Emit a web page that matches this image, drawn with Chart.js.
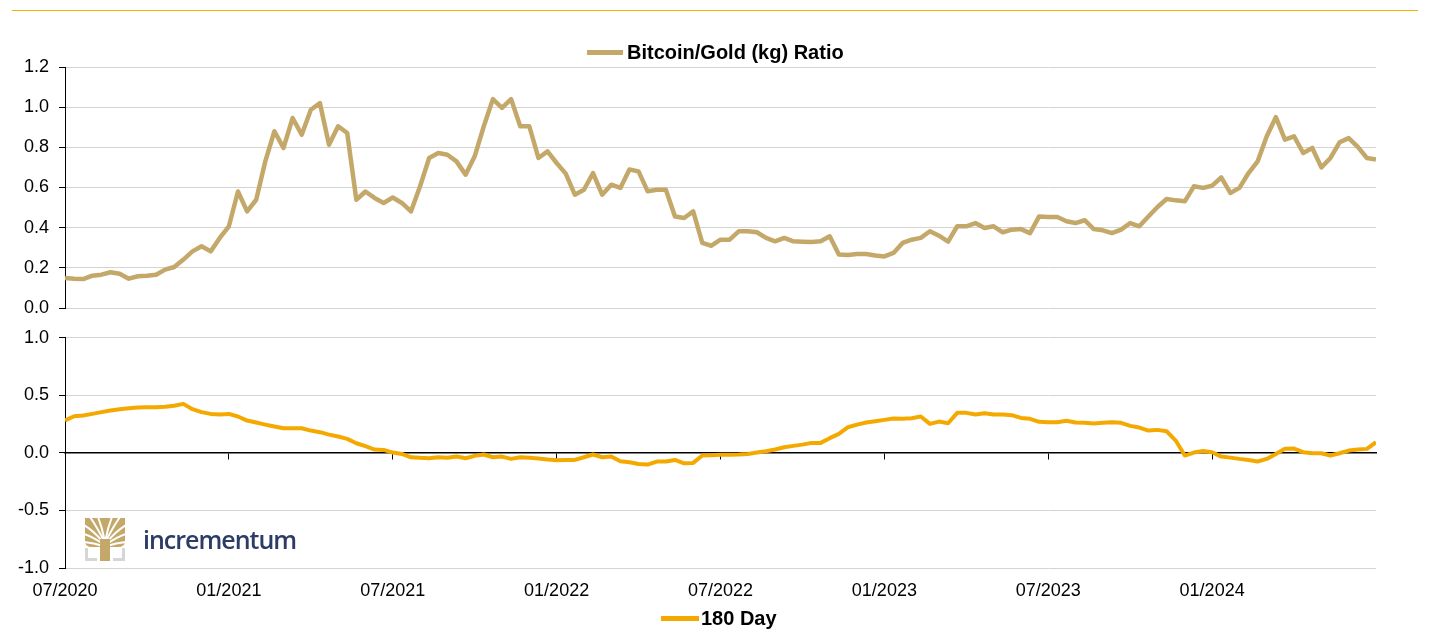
<!DOCTYPE html>
<html>
<head>
<meta charset="utf-8">
<script src="https://cdn.jsdelivr.net/npm/chart.js@4.4.1/dist/chart.umd.min.js"></script>
<style>
  html, body { margin: 0; padding: 0; background: #fff; }
  body { width: 1430px; height: 634px; position: relative; overflow: hidden; font-family: "Liberation Sans", Arial, sans-serif; }
  .rule { position: absolute; left: 12px; top: 10px; width: 1406px; height: 1px; background: #F2B200; }
  .box { position: absolute; left: 0; width: 1430px; }
  #top-box { top: 0; height: 330px; }
  #bot-box { top: 317px; height: 317px; }
  .legend { position: absolute; height: 24px; line-height: 24px; white-space: nowrap; font-size: 20px; font-weight: bold; color: #000; }
  .legend i { display: inline-block; height: 5px; vertical-align: middle; position: relative; top: -1px; }
  #top-legend { left: 587px; top: 40px; }
  #top-legend i { width: 36px; margin-right: 4px; }
  #bot-legend { left: 661px; top: 606px; }
  #bot-legend i { width: 38px; margin-right: 2px; }
  .logo { position: absolute; left: 84px; top: 517px; width: 230px; height: 44px; }
  .logo svg { position: absolute; left: 0; top: 0; }
  .logo span { position: absolute; left: 59px; top: 5px; font-family: "Open Sans", sans-serif; font-weight: 600; font-size: 25px; letter-spacing: -1px; color: #2D3C66; }
</style>
</head>
<body>
<div class="rule"></div>
<div class="box" id="top-box"><canvas id="top-chart"></canvas></div>
<div class="box" id="bot-box"><canvas id="bot-chart"></canvas></div>
<div class="legend" id="top-legend"></div>
<div class="legend" id="bot-legend"></div>
<div class="logo">
  <svg width="42" height="44" viewBox="0 0 42 44">
    <path d="M1 1 H41 V24 Q41 30 34 30 H8 Q1 30 1 24 Z" fill="#C4A86A"/>
    <g stroke="#fff" stroke-width="2" fill="none">
      <path d="M19 29 Q10 26 0 25"/>
      <path d="M19 27 Q9 20 0 17"/>
      <path d="M19 25 Q10 14 0 8"/>
      <path d="M20 24 Q13 10 6 0"/>
      <path d="M20.5 23 Q18 10 14 0"/>
      <path d="M23 29 Q32 26 42 25"/>
      <path d="M23 27 Q33 20 42 17"/>
      <path d="M23 25 Q32 14 42 8"/>
      <path d="M22 24 Q29 10 36 0"/>
      <path d="M21.5 23 Q24 10 28 0"/>
    </g>
    <rect x="16" y="22" width="10" height="22" fill="#C4A86A"/>
    <path d="M2.5 31 V42.5 H13 M39.5 31 V42.5 H29" stroke="#D6D6D6" stroke-width="3" fill="none"/>
  </svg>
  <span>incrementum</span>
</div>
<script>
(function() {
    'use strict';

    /* ---- data: one point every 1/3 month, starting 07/2020 ---- */
    var START_YEAR = 2020;
    var START_MONTH = 7;
    var STEP = 1 / 3;
    var TICK_MONTHS = [0, 6, 12, 18, 24, 30, 36, 42];

    var ratio = [
        0.150, 0.146, 0.144, 0.161, 0.166, 0.178, 0.171, 0.146, 0.158, 0.161, 0.166, 0.191,
        0.204, 0.241, 0.282, 0.307, 0.282, 0.349, 0.407, 0.580, 0.481, 0.539, 0.730, 0.880,
        0.797, 0.946, 0.863, 0.987, 1.020, 0.813, 0.905, 0.871, 0.539, 0.580, 0.548, 0.523,
        0.550, 0.523, 0.481, 0.606, 0.747, 0.772, 0.763, 0.730, 0.664, 0.755, 0.905, 1.040,
        0.996, 1.040, 0.905, 0.905, 0.747, 0.780, 0.722, 0.669, 0.564, 0.589, 0.672, 0.564,
        0.614, 0.598, 0.690, 0.680, 0.581, 0.589, 0.589, 0.456, 0.448, 0.481, 0.324, 0.310,
        0.340, 0.340, 0.382, 0.382, 0.377, 0.349, 0.332, 0.349, 0.332, 0.330, 0.329, 0.332,
        0.357, 0.266, 0.264, 0.269, 0.269, 0.261, 0.257, 0.274, 0.324, 0.340, 0.349, 0.382,
        0.360, 0.330, 0.407, 0.407, 0.423, 0.398, 0.407, 0.377, 0.390, 0.393, 0.373, 0.456,
        0.453, 0.453, 0.432, 0.423, 0.437, 0.393, 0.387, 0.373, 0.390, 0.423, 0.407, 0.456,
        0.503, 0.543, 0.536, 0.531, 0.606, 0.598, 0.609, 0.650, 0.573, 0.598, 0.672, 0.730,
        0.855, 0.950, 0.838, 0.855, 0.772, 0.797, 0.700, 0.747, 0.825, 0.846, 0.802, 0.747,
        0.739
    ];

    var corr180 = [
        0.281, 0.319, 0.325, 0.339, 0.354, 0.368, 0.380, 0.388, 0.394, 0.397, 0.397, 0.400,
        0.409, 0.426, 0.380, 0.354, 0.339, 0.333, 0.339, 0.316, 0.281, 0.264, 0.246, 0.229,
        0.214, 0.214, 0.214, 0.194, 0.180, 0.159, 0.142, 0.122, 0.084, 0.058, 0.029, 0.026,
        0.003, -0.009, -0.038, -0.043, -0.046, -0.038, -0.043, -0.032, -0.046, -0.026, -0.014, -0.038,
        -0.032, -0.052, -0.038, -0.043, -0.049, -0.058, -0.064, -0.061, -0.061, -0.038, -0.014, -0.038,
        -0.032, -0.072, -0.081, -0.096, -0.101, -0.075, -0.075, -0.061, -0.090, -0.087, -0.023, -0.020,
        -0.017, -0.017, -0.014, -0.009, 0.003, 0.014, 0.029, 0.049, 0.061, 0.072, 0.087, 0.087,
        0.128, 0.165, 0.223, 0.246, 0.264, 0.275, 0.287, 0.299, 0.296, 0.301, 0.316, 0.252,
        0.272, 0.258, 0.348, 0.348, 0.333, 0.345, 0.333, 0.333, 0.328, 0.304, 0.296, 0.270,
        0.267, 0.267, 0.280, 0.264, 0.261, 0.255, 0.261, 0.267, 0.261, 0.235, 0.220, 0.194,
        0.200, 0.188, 0.107, -0.023, 0.003, 0.017, 0.006, -0.032, -0.041, -0.052, -0.061, -0.075,
        -0.052, -0.009, 0.035, 0.038, 0.006, -0.003, -0.003, -0.023, -0.003, 0.020, 0.029, 0.035,
        0.093
    ];

    var RATIO_COLOR = '#C4A86A';
    var CORR_COLOR = '#F4A900';
    var FONT = '"Liberation Sans", Arial, sans-serif';

    function toPoints(values) {
        return values.map(function(v, i) { return { x: i * STEP, y: v }; });
    }

    function monthLabel(m) {
        var total = START_MONTH - 1 + Math.round(m);
        var mm = total % 12 + 1;
        var yy = START_YEAR + Math.floor(total / 12);
        return (mm < 10 ? '0' + mm : '' + mm) + '/' + yy;
    }

    function fixTicks(scale) {
        scale.ticks = TICK_MONTHS.map(function(v) { return { value: v }; });
    }

    function yAxis(min, max, step) {
        return {
            min: min,
            max: max,
            afterFit: function(scale) { scale.width = 65; },
            border: { display: true, color: '#000', width: 1 },
            grid: {
                color: '#D4D4D4',
                lineWidth: 1,
                tickColor: '#000',
                tickLength: 6
            },
            ticks: {
                stepSize: step,
                padding: 10,
                color: '#000',
                font: { family: FONT, size: 18 },
                callback: function(v) { return Number(v).toFixed(1); }
            }
        };
    }

    /* legend built as html from the chart's own dataset */
    function htmlLegend(chart, id) {
        var el = document.getElementById(id);
        var ds = chart.data.datasets[0];
        var swatch = document.createElement('i');
        swatch.style.background = ds.borderColor;
        el.appendChild(swatch);
        el.appendChild(document.createTextNode(ds.label));
    }

    Chart.defaults.font.family = FONT;
    Chart.defaults.animation = false;

    /* ---- top: Bitcoin/Gold ratio ---- */
    var topChart = new Chart(document.getElementById('top-chart'), {
        type: 'line',
        data: {
            datasets: [{
                label: 'Bitcoin/Gold (kg) Ratio',
                data: toPoints(ratio),
                borderColor: RATIO_COLOR,
                borderWidth: 4.5,
                pointRadius: 0,
                tension: 0,
                borderJoinStyle: 'round'
            }]
        },
        options: {
            responsive: true,
            maintainAspectRatio: false,
            layout: { padding: { left: 0, right: 54, top: 67, bottom: 22 } },
            plugins: {
                legend: { display: false },
                tooltip: { enabled: false }
            },
            scales: {
                x: {
                    type: 'linear',
                    min: 0,
                    max: 48,
                    display: false,
                    afterBuildTicks: fixTicks
                },
                y: yAxis(0, 1.2, 0.2)
            }
        }
    });
    htmlLegend(topChart, 'top-legend');

    /* ---- bottom: 180 day correlation ---- */
    var botChart = new Chart(document.getElementById('bot-chart'), {
        type: 'line',
        data: {
            datasets: [{
                label: '180 Day',
                data: toPoints(corr180),
                borderColor: CORR_COLOR,
                borderWidth: 4,
                pointRadius: 0,
                tension: 0,
                borderJoinStyle: 'round',
                xAxisID: 'x'
            }]
        },
        options: {
            responsive: true,
            maintainAspectRatio: false,
            layout: { padding: { left: 0, right: 54, top: 14, bottom: 30 } },
            plugins: {
                legend: { display: false },
                tooltip: { enabled: false }
            },
            scales: {
                x: {
                    type: 'linear',
                    min: 0,
                    max: 48,
                    afterBuildTicks: fixTicks,
                    afterFit: function(scale) { scale.height = 36; },
                    border: { display: false },
                    grid: { display: false, drawTicks: false },
                    ticks: {
                        padding: 12,
                        color: '#000',
                        maxRotation: 0,
                        autoSkip: false,
                        font: { family: FONT, size: 18 },
                        callback: function(v) { return monthLabel(v); }
                    }
                },
                xZero: {
                    type: 'linear',
                    position: { y: 0 },
                    min: 0,
                    max: 48,
                    afterBuildTicks: fixTicks,
                    border: { display: true, color: '#000', width: 1.5 },
                    grid: { drawOnChartArea: false, drawTicks: true, tickLength: 6, tickColor: '#000' },
                    ticks: { display: false }
                },
                y: yAxis(-1, 1, 0.5)
            }
        }
    });
    htmlLegend(botChart, 'bot-legend');
})();
</script>
</body>
</html>
